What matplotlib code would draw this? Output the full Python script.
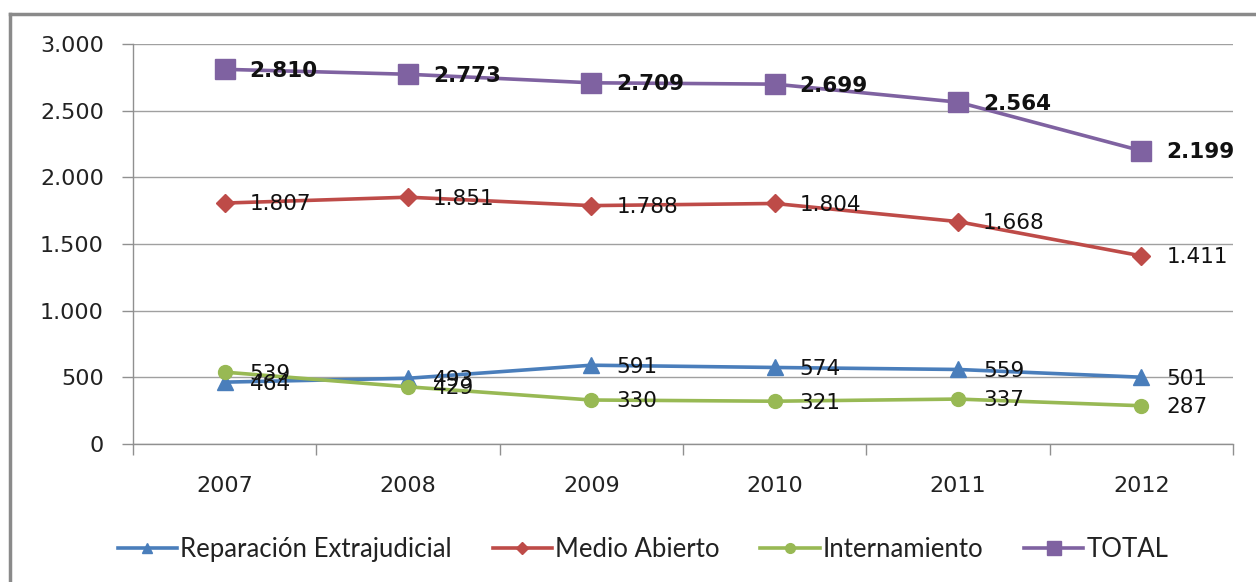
import matplotlib
matplotlib.use("Agg")
import matplotlib.pyplot as plt
from matplotlib.lines import Line2D
from matplotlib.ticker import FuncFormatter, FixedLocator

years = ["2007", "2008", "2009", "2010", "2011", "2012"]
reparacion = [464, 493, 591, 574, 559, 501]
medio_abierto = [1807, 1851, 1788, 1804, 1668, 1411]
internamiento = [539, 429, 330, 321, 337, 287]
total = [2810, 2773, 2709, 2699, 2564, 2199]

series = [
    ("Reparación Extrajudicial", reparacion, "#4A7EBB", "^", 11, "normal"),
    ("Medio Abierto", medio_abierto, "#BE4B48", "D", 9, "normal"),
    ("Internamiento", internamiento, "#98B954", "o", 10, "normal"),
    ("TOTAL", total, "#7F62A1", "s", 14, "bold"),
]


def miles(v, pos=None):
    return f"{v:,.0f}".replace(",", ".")


fig = plt.figure(figsize=(12.56, 5.82), dpi=100)
ax = fig.add_axes([0.1059, 0.2371, 0.8758, 0.6873])

x = [i + 0.5 for i in range(len(years))]
for name, vals, col, mk, ms, fw in series:
    ax.plot(x, vals, color=col, lw=2.6, marker=mk, markersize=ms,
            label=name, zorder=3)
    for xi, v in zip(x, vals):
        ax.annotate(miles(v), (xi, v), xytext=(18, -1), textcoords="offset points",
                    ha="left", va="center", fontsize=15.5, fontweight=fw,
                    color="#111111", zorder=4)

ax.set_xlim(0, 6)
ax.set_ylim(0, 3000)
ax.set_yticks(range(0, 3001, 500))
ax.yaxis.set_major_formatter(FuncFormatter(miles))
ax.grid(axis="y", color="#A0A0A0", lw=1)
ax.set_axisbelow(True)

ax.xaxis.set_major_locator(FixedLocator(range(0, 7)))
ax.xaxis.set_minor_locator(FixedLocator(x))
ax.set_xticklabels([], minor=False)
ax.set_xticklabels(years, minor=True)
ax.tick_params(axis="x", which="major", length=8, color="#909090", width=1)
ax.tick_params(axis="x", which="minor", length=0, pad=23, labelsize=16,
               labelcolor="#222222")
ax.tick_params(axis="y", length=8, color="#909090", width=1, pad=13,
               labelsize=16, labelcolor="#222222")

for s in ["top", "right"]:
    ax.spines[s].set_visible(False)
for s in ["left", "bottom"]:
    ax.spines[s].set_color("#909090")
    ax.spines[s].set_linewidth(1)

handles = [Line2D([], [], color=col, lw=2.6, marker=mk, markersize=ms * 0.7)
           for name, vals, col, mk, ms, fw in series]
fig.legend(handles, [s[0] for s in series], loc="center", ncol=4,
           bbox_to_anchor=(0.512, 0.055), frameon=False,
           prop={"family": ["Lato", "DejaVu Sans"], "size": 18.5},
           labelcolor="#222222",
           handlelength=2.3, handletextpad=0.12, columnspacing=1.6)

# outer chart frame
fig.add_artist(Line2D([10 / 1256, 1.01], [1 - 14 / 582, 1 - 14 / 582],
                      transform=fig.transFigure, color="#8A8A8A", lw=2.5))
fig.add_artist(Line2D([10 / 1256, 10 / 1256], [-0.01, 1 - 14 / 582],
                      transform=fig.transFigure, color="#8A8A8A", lw=2.5))

fig.savefig("out.png", dpi=100)
